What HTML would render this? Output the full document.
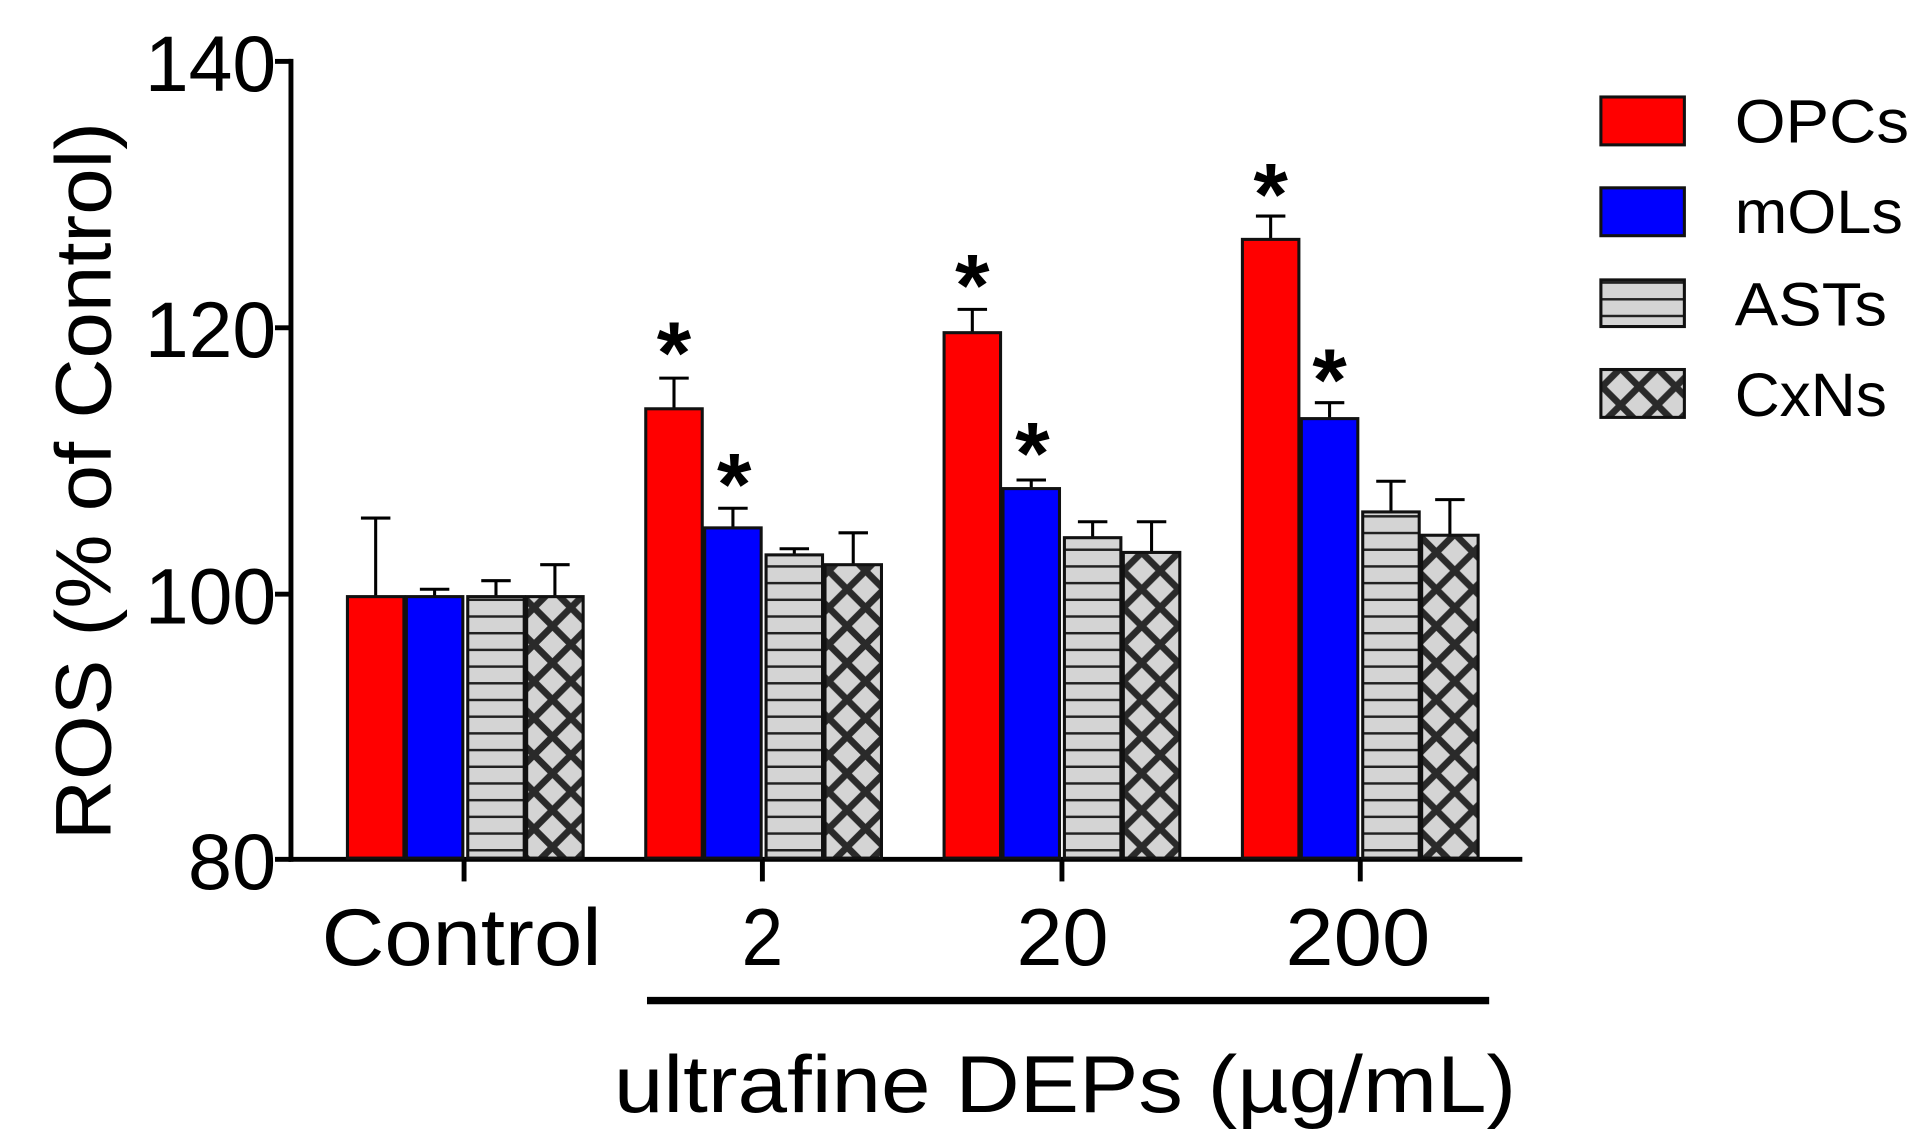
<!DOCTYPE html>
<html><head><meta charset="utf-8"><style>html,body{margin:0;padding:0;background:#fff}svg{display:block}</style></head>
<body>
<svg width="1925" height="1138" viewBox="0 0 1568 927" preserveAspectRatio="none" xmlns="http://www.w3.org/2000/svg" font-family="Liberation Sans, Arial, sans-serif">
<defs>
<pattern id="hl" patternUnits="userSpaceOnUse" width="20" height="13.6">
<rect width="20" height="13.6" fill="#d4d4d4"/><rect y="11.6" width="20" height="2.2" fill="#222"/>
</pattern>
<pattern id="xh" patternUnits="userSpaceOnUse" width="30" height="30" x="0" y="0">
<rect width="30" height="30" fill="#d4d4d4"/>
<path d="M0 0L30 30M30 0L0 30M-15 15L15 -15M15 45L45 15M-15 15L15 45M15 -15L45 15" stroke="#2a2a2a" stroke-width="5.5"/>
</pattern>
</defs>
<g stroke="#000" stroke-width="4" fill="none">
<line x1="237" y1="48" x2="237" y2="702"/>
<line x1="235" y1="700" x2="1240" y2="700"/>
<line x1="224" y1="50" x2="237" y2="50"/>
<line x1="224" y1="267" x2="237" y2="267"/>
<line x1="224" y1="484" x2="237" y2="484"/>
<line x1="224" y1="700" x2="237" y2="700"/>
<line x1="378" y1="700" x2="378" y2="718"/>
<line x1="621" y1="700" x2="621" y2="718"/>
<line x1="865" y1="700" x2="865" y2="718"/>
<line x1="1108" y1="700" x2="1108" y2="718"/>
<line x1="527" y1="815" x2="1213" y2="815" stroke-width="6"/>
</g>
<g font-size="64" fill="#000" lengthAdjust="spacingAndGlyphs">
<text x="118" y="74" textLength="107" lengthAdjust="spacingAndGlyphs">140</text>
<text x="118" y="291" textLength="107" lengthAdjust="spacingAndGlyphs">120</text>
<text x="118" y="508" textLength="107" lengthAdjust="spacingAndGlyphs">100</text>
<text x="153" y="724" textLength="72" lengthAdjust="spacingAndGlyphs">80</text>
</g>
<text transform="translate(90,392) rotate(-90)" font-size="64" text-anchor="middle" textLength="585" lengthAdjust="spacingAndGlyphs">ROS (% of Control)</text>
<g font-size="66">
<text x="262" y="786" textLength="228" lengthAdjust="spacingAndGlyphs">Control</text>
<text x="604" y="786" textLength="34" lengthAdjust="spacingAndGlyphs">2</text>
<text x="828" y="786" textLength="75" lengthAdjust="spacingAndGlyphs">20</text>
<text x="1047" y="786" textLength="118" lengthAdjust="spacingAndGlyphs">200</text>
<text x="500" y="906" textLength="735" lengthAdjust="spacingAndGlyphs">ultrafine DEPs (µg/mL)</text>
</g>
<g stroke="#000" stroke-width="2.5">
<line x1="306" y1="486" x2="306" y2="422"/><line x1="294" y1="422" x2="318" y2="422"/>
<line x1="354" y1="486" x2="354" y2="480"/><line x1="342" y1="480" x2="366" y2="480"/>
<line x1="404" y1="486" x2="404" y2="473"/><line x1="392" y1="473" x2="416" y2="473"/>
<line x1="452" y1="486" x2="452" y2="460"/><line x1="440" y1="460" x2="464" y2="460"/>
<line x1="549" y1="333" x2="549" y2="308"/><line x1="537" y1="308" x2="561" y2="308"/>
<line x1="597" y1="430" x2="597" y2="414"/><line x1="585" y1="414" x2="609" y2="414"/>
<line x1="647" y1="452" x2="647" y2="447"/><line x1="635" y1="447" x2="659" y2="447"/>
<line x1="695" y1="460" x2="695" y2="434"/><line x1="683" y1="434" x2="707" y2="434"/>
<line x1="792" y1="271" x2="792" y2="252"/><line x1="780" y1="252" x2="804" y2="252"/>
<line x1="840" y1="398" x2="840" y2="391"/><line x1="828" y1="391" x2="852" y2="391"/>
<line x1="890" y1="438" x2="890" y2="425"/><line x1="878" y1="425" x2="902" y2="425"/>
<line x1="938" y1="450" x2="938" y2="425"/><line x1="926" y1="425" x2="950" y2="425"/>
<line x1="1035" y1="195" x2="1035" y2="176"/><line x1="1023" y1="176" x2="1047" y2="176"/>
<line x1="1083" y1="341" x2="1083" y2="328"/><line x1="1071" y1="328" x2="1095" y2="328"/>
<line x1="1133" y1="417" x2="1133" y2="392"/><line x1="1121" y1="392" x2="1145" y2="392"/>
<line x1="1181" y1="436" x2="1181" y2="407"/><line x1="1169" y1="407" x2="1193" y2="407"/>
</g>
<g stroke="#111" stroke-width="2.5">
<rect x="283" y="486" width="46" height="213" fill="#ff0000"/>
<rect x="331" y="486" width="46" height="213" fill="#0000ff"/>
<rect x="381" y="486" width="46" height="213" fill="url(#hl)"/>
<rect x="429" y="486" width="46" height="213" fill="url(#xh)"/>
<rect x="526" y="333" width="46" height="366" fill="#ff0000"/>
<rect x="574" y="430" width="46" height="269" fill="#0000ff"/>
<rect x="624" y="452" width="46" height="247" fill="url(#hl)"/>
<rect x="672" y="460" width="46" height="239" fill="url(#xh)"/>
<rect x="769" y="271" width="46" height="428" fill="#ff0000"/>
<rect x="817" y="398" width="46" height="301" fill="#0000ff"/>
<rect x="867" y="438" width="46" height="261" fill="url(#hl)"/>
<rect x="915" y="450" width="46" height="249" fill="url(#xh)"/>
<rect x="1012" y="195" width="46" height="504" fill="#ff0000"/>
<rect x="1060" y="341" width="46" height="358" fill="#0000ff"/>
<rect x="1110" y="417" width="46" height="282" fill="url(#hl)"/>
<rect x="1158" y="436" width="46" height="263" fill="url(#xh)"/>
</g>
<g font-size="72" font-weight="bold" text-anchor="middle">
<text x="549" y="312">*</text><text x="598" y="419">*</text>
<text x="792" y="257">*</text><text x="841" y="394">*</text>
<text x="1035" y="183">*</text><text x="1083" y="334">*</text>
</g>
<g stroke="#111" stroke-width="2.5">
<rect x="1304" y="79" width="68" height="39" fill="#ff0000"/>
<rect x="1304" y="153" width="68" height="39" fill="#0000ff"/>
<rect x="1304" y="228" width="68" height="38" fill="url(#hl)"/>
<rect x="1304" y="301" width="68" height="39" fill="url(#xh)"/>
</g>
<g font-size="50">
<text x="1413" y="116" textLength="142" lengthAdjust="spacingAndGlyphs">OPCs</text>
<text x="1413" y="190" textLength="137" lengthAdjust="spacingAndGlyphs">mOLs</text>
<text x="1413" y="265" textLength="124" lengthAdjust="spacingAndGlyphs">ASTs</text>
<text x="1413" y="339" textLength="124" lengthAdjust="spacingAndGlyphs">CxNs</text>
</g>
</svg>
</body></html>
